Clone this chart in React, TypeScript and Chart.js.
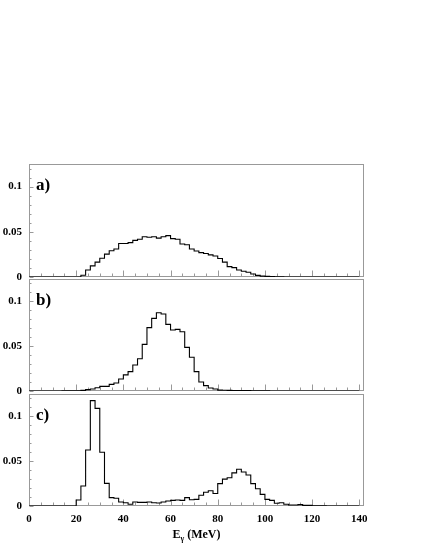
import React, { useEffect, useRef } from 'react';
import { Chart, registerables } from 'chart.js';

Chart.register(...registerables);

// ---- data (bin width 2 MeV, bins start at 0, 2, 4, ... 138 MeV) ----
const BIN_WIDTH = 2;

const panelA: number[] = [
  0, 0, 0, 0, 0, 0, 0, 0, 0, 0, // 0-18
  0, // 20
  0.002, 0.0078, 0.0123, 0.0164, 0.0208, 0.0253, 0.029, 0.031, 0.037, 0.037, // 22-40
  0.038, 0.0405, 0.0417, 0.0446, 0.044, 0.0446, 0.043, 0.0446, 0.0458, 0.0424, // 42-60
  0.0417, 0.0365, 0.0357, 0.031, 0.0287, 0.027, 0.026, 0.0245, 0.0232, 0.0205, // 62-80
  0.0164, 0.0115, 0.0104, 0.0078, 0.0063, 0.0052, 0.0033, 0.0018, 0.001, 0.0007, // 82-100
  0.0004, 0.0002, 0.0001, // 102-106
  0, 0, 0, 0, 0, 0, 0, 0, 0, 0, 0, 0, 0, 0, 0, 0, // 108-138
];

const panelB: number[] = [
  0, 0, 0, 0, 0, 0, 0, // 0-12
  0.0001, 0.0002, 0.0002, 0.0003, // 14-20
  0.0007, 0.0015, 0.0022, 0.0037, 0.0052, 0.0052, 0.0074, 0.0089, 0.0134, 0.018, // 22-40
  0.0216, 0.029, 0.036, 0.052, 0.0707, 0.081, 0.0874, 0.086, 0.0744, 0.068, // 42-60
  0.0688, 0.0662, 0.0487, 0.0376, 0.0216, 0.01, 0.006, 0.0033, 0.0022, 0.001, // 62-80
  0.0008, 0.0007, 0.0005, 0.0005, 0.0006, 0.0004, 0.0003, 0.0002, 0.0001, 0.0001, // 82-100
  0, 0, 0, 0, 0, 0, 0, 0, 0, 0, 0, 0, 0, 0, 0, 0, 0, 0, 0, // 102-138
];

const panelC: number[] = [
  0, 0, 0, 0, 0, 0, 0, 0, 0, 0, // 0-18
  0.0067, 0.0223, 0.0625, 0.1176, 0.109, 0.06, 0.0253, 0.0093, 0.0086, 0.0045, // 20-38
  0.0037, 0.0019, 0.0045, 0.0041, 0.0041, 0.0045, 0.0037, 0.0033, 0.0045, 0.0056, // 40-58
  0.0063, 0.0067, 0.0063, 0.0093, 0.007, 0.0074, 0.012, 0.0153, 0.017, 0.014, // 60-78
  0.025, 0.03, 0.0316, 0.037, 0.041, 0.038, 0.0346, 0.025, 0.0193, 0.013, // 80-98
  0.0074, 0.0063, 0.003, 0.0037, 0.0019, 0.0011, 0.0011, 0.0015, 0.0007, 0.0007, // 100-118
  0.0003, 0.0002, 0.0001, // 120-124
  0, 0, 0, 0, 0, 0, 0, // 126-138
];

const panelLabels = ['a)', 'b)', 'c)'];
const xTickValues = [0, 20, 40, 60, 80, 100, 120, 140];
const yTickValues = [0, 0.05, 0.1];
const yTickLabels = ['0', '0.05', '0.1'];

// ---- layout ----
const W = 421;
const H = 545;
const AREA_LEFT = 29;
const AREA_RIGHT = 364;
const X_MIN = 0;
const X_MAX = 142;
const Y_MAX = 0.125;
const FRAME = '#999999';
const SERIF = "'Liberation Serif', 'DejaVu Serif', serif";

const panels = [
  { values: panelA, label: panelLabels[0], top: 164, bottom: 277, showX: false },
  { values: panelB, label: panelLabels[1], top: 279, bottom: 391, showX: false },
  { values: panelC, label: panelLabels[2], top: 394, bottom: 506, showX: true },
];

function toPoints(values: number[]) {
  const pts = values.map((v, i) => ({ x: X_MIN + i * BIN_WIDTH, y: v }));
  pts.push({ x: X_MIN + values.length * BIN_WIDTH, y: values[values.length - 1] });
  return pts;
}

function Panel(props: { values: number[]; label: string; top: number; bottom: number; showX: boolean }) {
  const ref = useRef<HTMLCanvasElement | null>(null);
  useEffect(() => {
    const canvas = ref.current;
    if (!canvas) return;
    const label = props.label;
    const framePlugin = {
      id: 'frameTicks',
      beforeDatasetsDraw(chart: any) {
        const ctx = chart.ctx;
        const a = chart.chartArea;
        const xs = chart.scales.x;
        const ys = chart.scales.y;
        ctx.save();
        ctx.strokeStyle = FRAME;
        ctx.lineWidth = 1;
        const l = Math.round(a.left) + 0.5;
        const r = Math.round(a.right) - 0.5;
        const t = Math.round(a.top) + 0.5;
        const b = Math.round(a.bottom) - 0.5;
        ctx.strokeRect(l, t, r - l, b - t);
        ctx.beginPath();
        // x ticks: minor every 5, major every 20
        for (let v = 0; v <= 140; v += 5) {
          const px = Math.round(xs.getPixelForValue(v)) + 0.5;
          const len = v % 20 === 0 ? 6 : 3;
          ctx.moveTo(px, b);
          ctx.lineTo(px, b - len);
        }
        // y ticks: minor every 0.01, major every 0.05
        for (let k = 0; k <= 12; k++) {
          const v = k * 0.01;
          const py = Math.round(ys.getPixelForValue(v)) + 0.5;
          const len = k % 5 === 0 ? 4 : 2;
          ctx.moveTo(l, py);
          ctx.lineTo(l + len, py);
        }
        ctx.stroke();
        ctx.fillStyle = '#000';
        ctx.font = `bold 17px ${SERIF}`;
        ctx.textAlign = 'left';
        ctx.textBaseline = 'alphabetic';
        ctx.fillText(label, a.left + 7, a.top + 26);
        ctx.restore();
      },
    };

    const chart = new Chart(canvas, {
      type: 'line',
      data: {
        datasets: [
          {
            data: toPoints(props.values),
            stepped: true,
            borderColor: '#000000',
            borderWidth: 1.1,
            pointRadius: 0,
            fill: false,
            tension: 0,
          },
        ],
      },
      options: {
        animation: false,
        responsive: false,
        events: [],
        layout: {
          padding: {
            left: 0,
            right: W - AREA_RIGHT,
            top: props.top,
            bottom: props.showX ? 0 : H - props.bottom,
          },
        },
        plugins: { legend: { display: false }, tooltip: { enabled: false }, title: { display: false } },
        scales: {
          x: {
            type: 'linear',
            min: X_MIN,
            max: X_MAX,
            display: props.showX,
            grid: { display: false, drawTicks: false },
            border: { display: false },
            afterBuildTicks: (scale: any) => {
              scale.ticks = xTickValues.map((v) => ({ value: v }));
            },
            afterFit: (scale: any) => {
              scale.height = props.showX ? H - props.bottom : 0;
            },
            ticks: {
              autoSkip: false,
              maxRotation: 0,
              padding: 7,
              color: '#000',
              font: { family: SERIF, size: 11, weight: 'bold' },
              callback: (v: any) => String(v),
            },
          },
          y: {
            type: 'linear',
            min: 0,
            max: Y_MAX,
            grid: { display: false, drawTicks: false },
            border: { display: false },
            afterBuildTicks: (scale: any) => {
              scale.ticks = yTickValues.map((v) => ({ value: v }));
            },
            afterFit: (scale: any) => {
              scale.width = AREA_LEFT;
            },
            ticks: {
              padding: 7,
              color: '#000',
              font: { family: SERIF, size: 11, weight: 'bold' },
              callback: (v: any) => {
                const i = yTickValues.findIndex((t) => Math.abs(t - v) < 1e-9);
                return i >= 0 ? yTickLabels[i] : '';
              },
            },
          },
        },
      },
      plugins: [framePlugin],
    } as any);
    return () => chart.destroy();
  }, []);
  return (
    <canvas
      ref={ref}
      width={W}
      height={H}
      style={{ position: 'absolute', left: 0, top: 0, width: W, height: H }}
    />
  );
}

export default function App() {
  return (
    <div style={{ position: 'absolute', left: 0, top: 0, width: W, height: H, background: '#fff', overflow: 'hidden' }}>
      {panels.map((p, i) => (
        <Panel key={i} values={p.values} label={p.label} top={p.top} bottom={p.bottom} showX={p.showX} />
      ))}
      <div
        style={{
          position: 'absolute',
          left: (AREA_LEFT + AREA_RIGHT) / 2 - 100,
          width: 200,
          top: 528,
          textAlign: 'center',
          font: `bold 12px ${SERIF}`,
          lineHeight: '12px',
          color: '#000',
        }}
      >
        E<sub style={{ fontSize: '8px' }}>γ</sub> (MeV)
      </div>
    </div>
  );
}
